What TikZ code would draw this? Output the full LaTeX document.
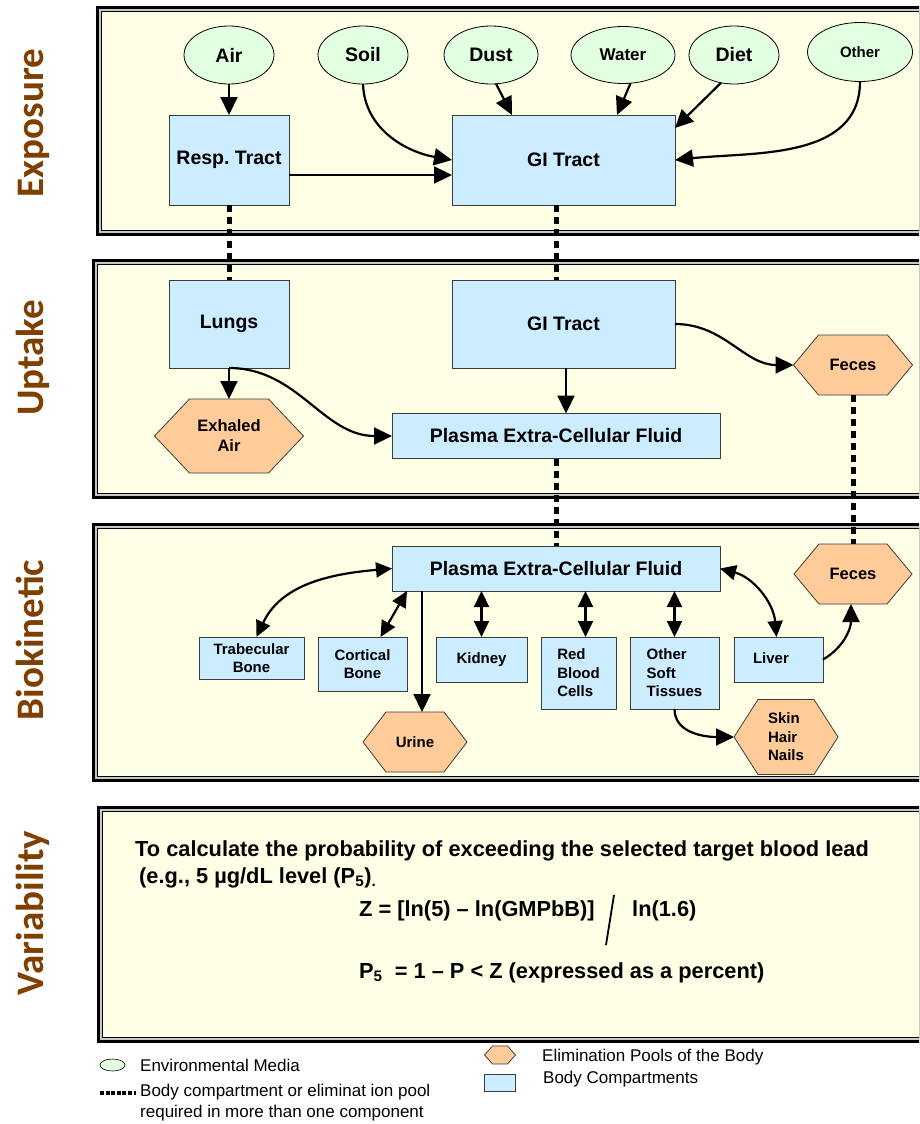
\documentclass[tikz,border=0pt]{standalone}
\usepackage{fontspec}
\setmainfont{Liberation Sans}
\newfontfamily\sidefont{Carlito}
\usetikzlibrary{shapes.geometric,arrows.meta,calc}
\pgfdeclarelayer{bg}
\pgfdeclarelayer{mid}
\pgfsetlayers{bg,mid,main}
\definecolor{panelfill}{RGB}{255,255,230}
\definecolor{medfill}{RGB}{226,255,226}
\definecolor{boxfill}{RGB}{204,236,255}
\definecolor{hexfill}{RGB}{255,204,153}
\definecolor{sidebrown}{RGB}{127,63,0}
\definecolor{edgegray}{RGB}{60,60,60}
\newcommand\panelbox[3]{%
  \fill[black] (#1,-#2) rectangle (940,-#3);
  \fill[gray!45] (#1+3.2,-#2-3.2) rectangle (937,-#3+3.2);
  \fill[black] (#1+5,-#2-5) rectangle (935,-#3+5);
  \fill[panelfill] (#1+6.3,-#2-6.3) rectangle (933,-#3+6.3);}
\newcommand\hexat[2]{%
  \begin{pgfonlayer}{mid}
  \draw[hexdraw] (#1.west) -- ($(#1.north west)+(#2,0)$) -- ($(#1.north east)+(-#2,0)$) -- (#1.east) -- ($(#1.south east)+(-#2,0)$) -- ($(#1.south west)+(#2,0)$) -- cycle;
  \end{pgfonlayer}}
\begin{document}
\begin{tikzpicture}[x=1pt,y=1pt,
  media/.style={ellipse, draw=black, line width=0.8pt, fill=medfill, inner sep=0, outer sep=0, font=\fontsize{19.5}{22}\selectfont\bfseries},
  comp/.style={rectangle, draw=edgegray, line width=0.8pt, fill=boxfill, inner sep=0, outer sep=0, align=center, font=\fontsize{19.5}{22}\selectfont\bfseries},
  smalltext/.style={font=\fontsize{15}{18.5}\selectfont\bfseries},
  pool/.style={rectangle, inner sep=0, outer sep=0, align=center, font=\fontsize{16.5}{20}\selectfont\bfseries},
  hexdraw/.style={draw=edgegray, line width=0.8pt, fill=hexfill},
  flow/.style={line width=2.2pt, -{Triangle[length=18pt,width=17pt]}},
  both/.style={line width=2.2pt, {Triangle[length=16pt,width=15pt]}-{Triangle[length=16pt,width=15pt]}},
  shared/.style={line width=5pt, dash pattern=on 7pt off 5pt},
  sidelabel/.style={rotate=90, anchor=base, text=sidebrown, inner sep=0, font=\sidefont\bfseries\fontsize{39}{44}\selectfont},
  vtext/.style={anchor=base west, inner sep=0, font=\fontsize{21.8}{26}\selectfont\bfseries},
  legtext/.style={anchor=base west, inner sep=0, font=\fontsize{17}{20}\selectfont\mdseries}]
\useasboundingbox (0,0) rectangle (919,-1124);
\begin{pgfonlayer}{bg}
\begin{scope}
\clip (0,0) rectangle (919,-1124);
\fill[white] (0,0) rectangle (919,-1124);
\panelbox{96}{6}{236}
\panelbox{92}{259}{499}
\panelbox{92}{523}{782}
\panelbox{97}{806}{1043}
\end{scope}
\end{pgfonlayer}

% side labels
\node[sidelabel] (lexp) at (43,-123) {Exposure};
\node[sidelabel] (lupt) at (43,-358) {Uptake};
\node[sidelabel] (lbio) at (43,-640) {Biokinetic};
\node[sidelabel] (lvar) at (43,-913) {Variability};

% exposure
\node[media, minimum width=90, minimum height=58] (air) at (229,-55) {Air};
\node[media, minimum width=90, minimum height=58] (soil) at (363,-55) {Soil};
\node[media, minimum width=94, minimum height=58] (dust) at (491,-55) {Dust};
\node[media, minimum width=104, minimum height=57, font=\fontsize{17}{20}\selectfont\bfseries] (water) at (623,-55) {\raisebox{-2pt}{Water}};
\node[media, minimum width=90, minimum height=58] (diet) at (734,-55) {Diet};
\node[media, minimum width=105, minimum height=59, font=\fontsize{15}{18}\selectfont\bfseries] (other) at (860,-52) {Other};
\node[comp, minimum width=120, minimum height=90] (resp) at (229,-160) {Resp.\ Tract};
\node[comp, minimum width=223, minimum height=90] (gi1) at (563.5,-160) {GI Tract};

\draw[flow] (air.south) -- (resp.north);
\draw[flow] (soil.south) to[out=-88,in=170] (gi1.west);
\draw[flow] ([yshift=-15pt]resp.east) -- ([yshift=-15pt]gi1.west);
\draw[flow] (dust.-80) -- ($(gi1.north west)+(60,0)$);
\draw[flow] (water.-75) -- ($(gi1.north west)+(165,0)$);
\draw[flow] (diet.-115) -- ($(gi1.north east)+(0,-13)$);
\draw[flow] (other.south) to[out=-90,in=6] (gi1.east);

% uptake
\node[comp, minimum width=120, minimum height=88] (lungs) at (229,-324) {Lungs};
\node[comp, minimum width=223, minimum height=88] (gi2) at (563.5,-324) {GI Tract};
\node[comp, minimum width=328, minimum height=45] (plasma2) at (556,-436) {Plasma Extra-Cellular Fluid};
\node[pool, minimum width=119, minimum height=60] (feces1) at (853,-365) {Feces};
\node[pool, minimum width=149, minimum height=74] (exhaled) at (229,-436) {Exhaled\\Air};
\hexat{feces1}{25}
\hexat{exhaled}{35}

\draw[shared] (resp.south) -- (lungs.north);
\draw[shared] ([xshift=-7.5pt]gi1.south) -- ([xshift=-7.5pt]gi2.north);
\draw[flow] (lungs.south) -- (exhaled.north);
\draw[flow] (lungs.south) to[out=0,in=180] (plasma2.west);
\draw[flow] ($(gi2.south)+(2.5,0)$) -- ($(plasma2.north)+(10,0)$);
\draw[flow] (gi2.east) to[out=0,in=180] (feces1.west);

% biokinetic
\node[comp, minimum width=328, minimum height=45] (plasma3) at (556,-568.5) {Plasma Extra-Cellular Fluid};
\node[pool, minimum width=118, minimum height=60] (feces2) at (853,-574) {Feces};
\node[comp, smalltext, minimum width=105, minimum height=42] (trab) at (251.5,-658) {Trabecular\\Bone};
\node[comp, smalltext, minimum width=89, minimum height=54] (cort) at (362.5,-664) {Cortical\\Bone};
\node[comp, smalltext, minimum width=91, minimum height=45] (kidney) at (481.5,-659.5) {\raisebox{3pt}{Kidney}};
\node[comp, smalltext, minimum width=75, minimum height=72, align=left] (rbc) at (578.5,-673) {Red\\Blood\\Cells};
\node[comp, smalltext, minimum width=89, minimum height=72, align=left] (ost) at (674.5,-673) {Other\\Soft\\Tissues};
\node[comp, smalltext, minimum width=89, minimum height=45, text width=51, align=left] (liver) at (778.5,-659.5) {\raisebox{3pt}{Liver}};
\node[pool, smalltext, minimum width=104, minimum height=60] (urine) at (415,-742) {Urine};
\node[pool, smalltext, minimum width=104, minimum height=75, align=left] (skin) at (786,-737) {Skin\\Hair\\Nails};
\hexat{feces2}{25}
\hexat{urine}{23}
\hexat{skin}{24}

\draw[shared] (plasma2.south) -- (plasma3.north);
\draw[shared] (feces1.south) -- (feces2.north);
\draw[both] ([xshift=5pt]trab.north) to[out=65,in=185] (plasma3.west);
\draw[both] ($(plasma3.south west)+(15,0)$) -- ($(cort.north)+(18,0)$);
\coordinate (uo) at ($(plasma3.south west)+(30,0)$);
\draw[flow] (uo) -- (uo |- urine.north);
\draw[both] (kidney.north |- plasma3.south) -- (kidney.north);
\coordinate (ra) at ($(rbc.north)+(7,0)$);
\draw[both] (ra |- plasma3.south) -- (ra);
\draw[both] (ost.north |- plasma3.south) -- (ost.north);
\draw[both] (plasma3.east) to[out=-15,in=95] ($(liver.north)+(-2,0)$);
\draw[flow] (liver.east) to[out=30,in=-90] ($(feces2.south)+(-2,0)$);
\draw[flow] (ost.south) to[out=-90,in=180] (skin.west);

% variability
\node[vtext] (v1) at (135,-856) {To calculate the probability of exceeding the selected target blood lead};
\node[vtext] (v2) at (139,-883) {(e.g., 5 µg/dL level (P\textsubscript{5})\textsubscript{.}};
\node[vtext] (f1) at (359,-916) {Z = [ln(5) – ln(GMPbB)]};
\node[vtext] (f2) at (632,-916) {ln(1.6)};
\coordinate (sl1) at (614,-895);
\coordinate (sl2) at (606,-945);
\draw[line width=1.8pt] (sl1) -- (sl2);
\node[vtext] (p5) at (359,-978) {P\textsubscript{5}\ \ = 1 – P < Z (expressed as a percent)};

% legend
\node[media, minimum width=25, minimum height=12, line width=0.6pt] (lgm) at (112.5,-1065) {};
\node[legtext] (lgmt) at (140,-1071) {Environmental Media};
\coordinate (ld1) at (100,-1093);
\coordinate (ld2) at (136,-1093);
\draw[line width=3.5pt, dash pattern=on 4pt off 1.6pt] (ld1) -- (ld2);
\node[legtext] (lgdt1) at (140,-1096) {Body compartment or eliminat ion pool};
\node[legtext] (lgdt2) at (140,-1117) {required in more than one component};
\node[pool, minimum width=31, minimum height=18] (lgh) at (500,-1055) {};
\hexat{lgh}{8}
\node[comp, minimum width=31, minimum height=17] (lgb) at (500,-1083) {};
\node[legtext] (lght) at (542,-1061) {Elimination Pools of the Body};
\node[legtext] (lgbt) at (543,-1083) {Body Compartments};
\end{tikzpicture}
\end{document}
